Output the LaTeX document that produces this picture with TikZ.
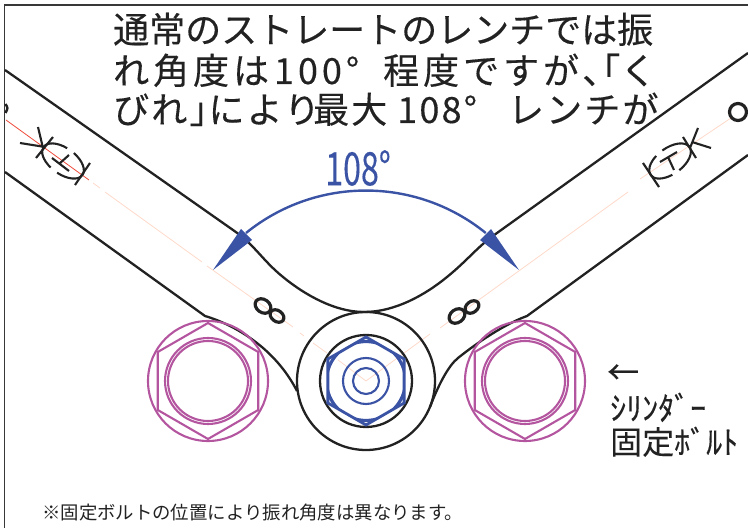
\documentclass[tikz,border=0pt]{standalone}
\usepackage{fontspec}
\setmainfont{Noto Sans CJK JP}
\definecolor{wblue}{HTML}{3A53A4}
\definecolor{wmagenta}{HTML}{B4569F}
\definecolor{wpale}{HTML}{FFD9C9}
\definecolor{wred}{HTML}{EE4A3A}
\definecolor{wink}{HTML}{222222}
\tikzset{
	wrenchline/.style={line width=2.3pt,color=wink},
	markline/.style={line width=2.1pt,color=wink},
	ringline/.style={line width=3.2pt,color=wink},
	paleline/.style={line width=0.8pt,color=wpale},
	boltline/.style={line width=2.1pt,color=wmagenta},
	textlabel/.style={anchor=base west,inner sep=0pt,color=wink},
}
\newcommand{\hexat}[2]{(#1)+(90:#2)--+(150:#2)--+(210:#2)--+(270:#2)--+(330:#2)--+(30:#2)--cycle}
\newcommand{\headfont}[1]{\fontsize{36}{36}\selectfont\addfontfeature{FakeBold=0.25,LetterSpace=#1}}
\newcommand{\sidefont}{\fontsize{32}{32}\selectfont\addfontfeature{FakeBold=0.25}}
\begin{document}
\begin{tikzpicture}[x=1pt,y=1pt]
	\useasboundingbox (0,0) rectangle (748,528);
	\coordinate (O) at (366,147);
	\coordinate (BL) at (208,147);
	\coordinate (BR) at (525,147);

	\draw[line width=1.8pt,color=wink!90] (4.5,0) -- (4.5,523) -- (748,523);

	\draw[paleline] (93,345) -- (100,340) (105,336) -- (202,266) (207,262) -- (293,201) (300,195) -- (304,192);
	\draw[paleline] (313,185) -- (327,175) (338,168) -- (O) -- (430,194) (440,200) -- (628,336) (640,349) -- (731,410);
	\draw[line width=0.8pt,color=wred] (6,408) -- (89,348);

	% wrench outline
	\draw[wrenchline] (5,458) -- (233,298) .. controls (255,283) and (262,268) .. (283,251)
		.. controls (305,233) and (335,216) .. (364,216)
		.. controls (395,216) and (425,233) .. (447,251)
		.. controls (468,268) and (478,282) .. (497,295) -- (748,475);
	\draw[wrenchline] (5,356) -- (205,212) .. controls (235,203) and (275,180) .. (297,137);
	\draw[wrenchline] (748,373) -- (527,212) .. controls (505,204) and (478,186) .. (458,170)
		.. controls (448,162) and (438,142) .. (430,121);
	\draw[wrenchline] (O) circle (69);
	\draw[wrenchline] (O) circle (46);

	\draw[ringline] (263,222) ellipse[x radius=8.5,y radius=6.5,rotate=-36];
	\draw[ringline] (277,212) ellipse[x radius=7.5,y radius=5.5,rotate=-36];
	\draw[ringline] (457,212) ellipse[x radius=8.5,y radius=6.5,rotate=36];
	\draw[ringline] (472,221) ellipse[x radius=7.5,y radius=5.5,rotate=36];
	\draw[ringline] (738,416) circle (8.5);
	\draw[line width=2.4pt,color=wink] (5.5,424) .. controls (8,420) .. (5.5,415);

	% marks on the handles
	\begin{scope}[shift={(63,367)},rotate=-36]
		\foreach \angA/\angB in {180/100,80/0,180/255,275/360}
			\draw[markline] (\angA:24 and 13) arc[start angle=\angA,end angle=\angB,x radius=24,y radius=13];
	\end{scope}
	\draw[markline] (90,365) -- (75,343) (53,391) -- (36,370) (20,385) -- (45,381) (38,401) -- (43,380);
	\draw[markline] (52,370) -- (69,357) (59,364) -- (69,373);
	\begin{scope}[shift={(670,367)},rotate=36]
		\foreach \angA/\angB in {180/110,90/0,180/255,275/360}
			\draw[markline] (\angA:24 and 13) arc[start angle=\angA,end angle=\angB,x radius=24,y radius=13];
	\end{scope}
	\draw[markline] (643,365) -- (659,341) (683,391) -- (696,370) (698,400) -- (690,380) (692,386) -- (711,380);
	\draw[markline] (660,366) -- (677,376) (668,371) -- (674,358);

	% bolts
	\foreach \bolt in {BL,BR}{
		\draw[boltline] (\bolt) circle (60);
		\draw[boltline] \hexat{\bolt}{58};
		\draw[boltline] (\bolt) circle (43);
		\draw[boltline] (\bolt) circle (40);
	}
	\draw[line width=2.8pt,color=wblue] \hexat{O}{44};
	\begin{scope}
		\clip \hexat{O}{44};
		\draw[line width=3.2pt,color=wblue] (O) circle (39.5);
	\end{scope}
	\draw[line width=2.1pt,color=wblue] (O) circle (23);
	\draw[line width=2.1pt,color=wblue] (O) circle (13);

	% swing angle
	\draw[line width=2.4pt,color=wblue] (246,295) arc[start angle=129,end angle=51,radius=190.5];
	\fill[wblue] (213,258) -- (241,299) -- (252,288) -- cycle;
	\fill[wblue] (519,258) -- (491,299) -- (480,288) -- cycle;
	\node[color=wblue,xscale=0.7,transform shape,inner sep=0pt] (angle) at (358,360) {\fontsize{46}{46}\selectfont\addfontfeature{FakeBold=0.15}108°};

	\node[textlabel] (line1) at (113,485) {\headfont{0}通常のストレートのレンチでは振};
	\node[textlabel] (line2) at (113,444) {\headfont{11}れ角度は\hspace{5pt}100°\hspace{24pt}程度ですが、\hspace{-34pt}「\hspace{0pt}く};
	\node[textlabel] (line3) at (113,405) {\headfont{6}びれ」\hspace{-17pt}により\hspace{-7pt}最大\hspace{10pt}108°\hspace{31pt}レンチが};

	\node[textlabel] (arrow) at (607,144) {\sidefont ←};
	\node[textlabel] (cyl) at (610,108) {\sidefont ｼﾘﾝﾀﾞｰ};
	\node[textlabel] (fix) at (610,74) {\sidefont 固定ﾎﾞﾙﾄ};

	\node[textlabel] (note) at (42,8) {\fontsize{18.4}{18.4}\selectfont ※固定ボルトの位置により振れ角度は異なります。};
\end{tikzpicture}
\end{document}
